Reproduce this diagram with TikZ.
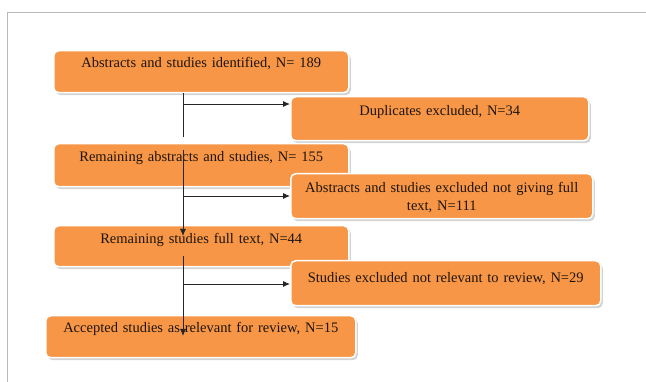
\documentclass[tikz,border=0pt]{standalone}
\usepackage{fontspec}
\setmainfont{Liberation Serif}
\usetikzlibrary{arrows.meta,shadows}
\definecolor{boxorange}{HTML}{F79646}
\definecolor{boxtext}{HTML}{1E140C}
\tikzset{
  stepbox/.style={draw=white, line width=1.5pt, rounded corners=5pt, fill=boxorange,
    drop shadow={shadow xshift=2pt, shadow yshift=-2.5pt, opacity=0.35},
    anchor=north west, inner xsep=0pt, inner ysep=0pt, align=center,
    text=boxtext, font=\fontsize{14.5}{18}\selectfont},
  flowline/.style={draw=black!85, line width=0.9pt},
  flowarrow/.style={flowline, -{Latex[length=7pt,width=6pt]}}
}
\begin{document}
\begin{tikzpicture}[x=1pt,y=-1pt]
\useasboundingbox (0,0) rectangle (646,382);
\draw[gray!55, line width=0.8pt] (7,382) -- (7,12) -- (646,12);

\node[stepbox, text width=295pt, text height=16.5pt, text depth=25.5pt] (idf) at (53,50) {Abstracts and studies identified, N= 189};
\node[stepbox, text width=298pt, text height=18.5pt, text depth=25.5pt] (dup) at (290,96) {Duplicates excluded, N=34};
\node[stepbox, text width=295pt, text height=17.5pt, text depth=25.5pt] (rem) at (53,143) {Remaining abstracts and studies, N= 155};
\node[stepbox, text width=302pt, text height=18.5pt, text depth=26.5pt] (nft) at (290,173) {Abstracts and studies excluded not giving full\\text, N=111};
\node[stepbox, text width=295pt, text height=17.5pt, text depth=23.5pt] (full) at (53,225) {Remaining studies full text, N=44};
\node[stepbox, text width=310pt, text height=21.5pt, text depth=23.5pt] (nrel) at (290,260) {Studies excluded not relevant to review, N=29};
\node[stepbox, text width=310pt, text height=16.5pt, text depth=25.5pt] (acc) at (45,315) {Accepted studies as relevant for review, N=15};

\coordinate (s1) at (183,137);
\coordinate (s2a) at (183,150);
\coordinate (s2b) at (183,236);
\coordinate (s3a) at (183,256);
\coordinate (s3b) at (183,336);
\coordinate (h1) at (183,104);
\coordinate (h2) at (183,196);
\coordinate (h3) at (183,284);

\draw[flowline] (idf.south -| s1) -- (s1);
\draw[flowarrow] (s2a) -- (s2b);
\draw[flowarrow] (s3a) -- (s3b);
\draw[flowarrow] (h1) -- (h1 -| dup.west);
\draw[flowarrow] (h2) -- (h2 -| nft.west);
\draw[flowarrow] (h3) -- (h3 -| nrel.west);
\end{tikzpicture}
\end{document}
